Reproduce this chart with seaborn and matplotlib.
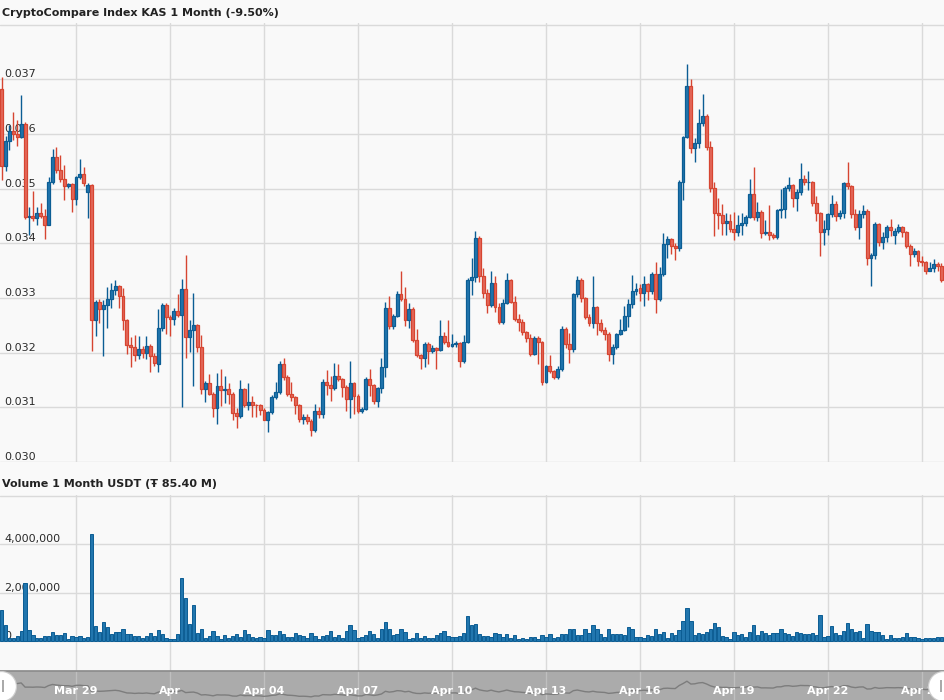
import numpy as np
import pandas as pd
import matplotlib
matplotlib.use("Agg")
import matplotlib.pyplot as plt
import matplotlib.dates as mdates
import seaborn as sns

# ── Look & feel ──────────────────────────────────────────
sns.set_theme(style="white")
plt.rcParams["font.family"] = ["DejaVu Sans"]

BG = "#f9f9f9"
GRID = "#dadada"
UP_FILL, UP_EDGE = "#2176ae", "#0b5d94"
DN_FILL, DN_EDGE = "#e4685a", "#d64531"

# ============================================================
# DATA  (3-hour candles, KAS in USDT)
# ============================================================
start_time = "2023-03-26 15:00"

opens = [
    0.03683, 0.03542, 0.03588, 0.03606, 0.03600, 0.03594, 0.03619, 0.03449, 0.03450, 0.03446,
    0.03455, 0.03450, 0.03433, 0.03512, 0.03557, 0.03534, 0.03517, 0.03505, 0.03508, 0.03481,
    0.03521, 0.03526, 0.03493, 0.03506, 0.03260, 0.03293, 0.03280, 0.03287, 0.03299, 0.03314,
    0.03322, 0.03303, 0.03259, 0.03214, 0.03210, 0.03195, 0.03207, 0.03199, 0.03213, 0.03194,
    0.03179, 0.03245, 0.03288, 0.03266, 0.03261, 0.03277, 0.03269, 0.03317, 0.03228, 0.03242,
    0.03250, 0.03210, 0.03133, 0.03144, 0.03125, 0.03098, 0.03139, 0.03131, 0.03133, 0.03125,
    0.03090, 0.03085, 0.03134, 0.03104, 0.03109, 0.03105, 0.03104, 0.03096, 0.03077, 0.03091,
    0.03118, 0.03128, 0.03179, 0.03155, 0.03125, 0.03118, 0.03104, 0.03079, 0.03083, 0.03075,
    0.03058, 0.03094, 0.03088, 0.03146, 0.03140, 0.03135, 0.03157, 0.03151, 0.03138, 0.03116,
    0.03144, 0.03121, 0.03094, 0.03097, 0.03152, 0.03140, 0.03112, 0.03135, 0.03173, 0.03281,
    0.03248, 0.03267, 0.03307, 0.03298, 0.03259, 0.03280, 0.03224, 0.03195, 0.03191, 0.03216,
    0.03203, 0.03208, 0.03205, 0.03230, 0.03219, 0.03213, 0.03216, 0.03217, 0.03184, 0.03219,
    0.03333, 0.03338, 0.03409, 0.03341, 0.03309, 0.03288, 0.03328, 0.03283, 0.03256, 0.03291,
    0.03332, 0.03293, 0.03262, 0.03256, 0.03237, 0.03226, 0.03197, 0.03226, 0.03219, 0.03147,
    0.03175, 0.03166, 0.03156, 0.03170, 0.03243, 0.03215, 0.03207, 0.03307, 0.03332, 0.03300,
    0.03266, 0.03254, 0.03283, 0.03254, 0.03242, 0.03234, 0.03197, 0.03211, 0.03234, 0.03242,
    0.03267, 0.03289, 0.03313, 0.03318, 0.03310, 0.03325, 0.03313, 0.03343, 0.03298, 0.03343,
    0.03398, 0.03407, 0.03396, 0.03391, 0.03513, 0.03594, 0.03688, 0.03574, 0.03583, 0.03620,
    0.03633, 0.03577, 0.03501, 0.03456, 0.03451, 0.03437, 0.03440, 0.03426, 0.03420, 0.03434,
    0.03437, 0.03448, 0.03491, 0.03448, 0.03457, 0.03418, 0.03420, 0.03415, 0.03411, 0.03461,
    0.03462, 0.03502, 0.03506, 0.03482, 0.03494, 0.03518, 0.03512, 0.03512, 0.03473, 0.03455,
    0.03421, 0.03426, 0.03453, 0.03472, 0.03450, 0.03455, 0.03511, 0.03504, 0.03453, 0.03429,
    0.03453, 0.03459, 0.03373, 0.03378, 0.03435, 0.03403, 0.03411, 0.03429, 0.03415, 0.03422,
    0.03429, 0.03420, 0.03396, 0.03380, 0.03386, 0.03368, 0.03365, 0.03350, 0.03355, 0.03362, 0.03358,
]

closes = [
    0.03542, 0.03588, 0.03606, 0.03600, 0.03594, 0.03619, 0.03449, 0.03450, 0.03446, 0.03455,
    0.03450, 0.03433, 0.03512, 0.03557, 0.03534, 0.03517, 0.03505, 0.03508, 0.03481, 0.03521,
    0.03526, 0.03510, 0.03506, 0.03260, 0.03293, 0.03280, 0.03287, 0.03299, 0.03314, 0.03322,
    0.03303, 0.03259, 0.03214, 0.03210, 0.03195, 0.03207, 0.03199, 0.03213, 0.03194, 0.03182,
    0.03245, 0.03288, 0.03266, 0.03261, 0.03277, 0.03269, 0.03317, 0.03228, 0.03242, 0.03250,
    0.03210, 0.03133, 0.03144, 0.03125, 0.03098, 0.03139, 0.03131, 0.03133, 0.03125, 0.03090,
    0.03085, 0.03134, 0.03104, 0.03109, 0.03105, 0.03104, 0.03096, 0.03077, 0.03091, 0.03118,
    0.03128, 0.03179, 0.03155, 0.03125, 0.03118, 0.03104, 0.03079, 0.03083, 0.03075, 0.03058,
    0.03094, 0.03088, 0.03146, 0.03140, 0.03135, 0.03157, 0.03151, 0.03138, 0.03116, 0.03144,
    0.03121, 0.03094, 0.03097, 0.03152, 0.03140, 0.03112, 0.03135, 0.03173, 0.03281, 0.03248,
    0.03267, 0.03307, 0.03298, 0.03259, 0.03280, 0.03224, 0.03195, 0.03191, 0.03216, 0.03203,
    0.03208, 0.03205, 0.03230, 0.03219, 0.03213, 0.03216, 0.03217, 0.03184, 0.03219, 0.03333,
    0.03338, 0.03409, 0.03341, 0.03309, 0.03288, 0.03328, 0.03283, 0.03256, 0.03291, 0.03332,
    0.03293, 0.03262, 0.03256, 0.03237, 0.03226, 0.03197, 0.03226, 0.03219, 0.03147, 0.03175,
    0.03166, 0.03156, 0.03170, 0.03243, 0.03215, 0.03207, 0.03307, 0.03332, 0.03300, 0.03266,
    0.03254, 0.03283, 0.03254, 0.03242, 0.03234, 0.03197, 0.03211, 0.03234, 0.03242, 0.03267,
    0.03289, 0.03313, 0.03317, 0.03310, 0.03325, 0.03313, 0.03343, 0.03298, 0.03343, 0.03398,
    0.03407, 0.03396, 0.03391, 0.03513, 0.03594, 0.03688, 0.03574, 0.03583, 0.03620, 0.03633,
    0.03577, 0.03501, 0.03456, 0.03451, 0.03437, 0.03440, 0.03426, 0.03420, 0.03434, 0.03437,
    0.03448, 0.03491, 0.03448, 0.03457, 0.03418, 0.03420, 0.03415, 0.03411, 0.03461, 0.03462,
    0.03502, 0.03506, 0.03482, 0.03494, 0.03518, 0.03512, 0.03512, 0.03473, 0.03455, 0.03421,
    0.03426, 0.03453, 0.03472, 0.03450, 0.03455, 0.03511, 0.03504, 0.03453, 0.03429, 0.03453,
    0.03459, 0.03373, 0.03378, 0.03435, 0.03403, 0.03411, 0.03429, 0.03424, 0.03422, 0.03429,
    0.03420, 0.03396, 0.03380, 0.03386, 0.03368, 0.03365, 0.03350, 0.03355, 0.03362, 0.03358, 0.03332,
]

highs = [
    0.03704, 0.03597, 0.03616, 0.03640, 0.03626, 0.03671, 0.03622, 0.03467, 0.03496, 0.03466,
    0.03473, 0.03462, 0.03522, 0.03573, 0.03577, 0.03562, 0.03543, 0.03511, 0.03511, 0.03524,
    0.03555, 0.03540, 0.03510, 0.03508, 0.03297, 0.03298, 0.03297, 0.03321, 0.03327, 0.03332,
    0.03324, 0.03318, 0.03262, 0.03228, 0.03232, 0.03230, 0.03212, 0.03230, 0.03216, 0.03200,
    0.03280, 0.03291, 0.03291, 0.03268, 0.03282, 0.03308, 0.03335, 0.03378, 0.03259, 0.03309,
    0.03253, 0.03232, 0.03148, 0.03161, 0.03128, 0.03162, 0.03171, 0.03157, 0.03144, 0.03128,
    0.03099, 0.03150, 0.03136, 0.03144, 0.03121, 0.03107, 0.03107, 0.03099, 0.03094, 0.03122,
    0.03146, 0.03185, 0.03190, 0.03160, 0.03146, 0.03121, 0.03106, 0.03088, 0.03088, 0.03078,
    0.03106, 0.03100, 0.03152, 0.03168, 0.03157, 0.03182, 0.03179, 0.03153, 0.03141, 0.03185,
    0.03146, 0.03124, 0.03100, 0.03155, 0.03171, 0.03142, 0.03138, 0.03190, 0.03292, 0.03304,
    0.03270, 0.03312, 0.03349, 0.03321, 0.03291, 0.03283, 0.03243, 0.03197, 0.03220, 0.03220,
    0.03214, 0.03210, 0.03259, 0.03237, 0.03259, 0.03234, 0.03222, 0.03219, 0.03233, 0.03336,
    0.03374, 0.03423, 0.03414, 0.03354, 0.03316, 0.03350, 0.03340, 0.03290, 0.03299, 0.03346,
    0.03335, 0.03303, 0.03270, 0.03262, 0.03240, 0.03234, 0.03231, 0.03230, 0.03222, 0.03178,
    0.03196, 0.03168, 0.03175, 0.03248, 0.03247, 0.03236, 0.03309, 0.03340, 0.03336, 0.03302,
    0.03270, 0.03340, 0.03286, 0.03262, 0.03247, 0.03237, 0.03216, 0.03236, 0.03262, 0.03285,
    0.03298, 0.03342, 0.03327, 0.03325, 0.03340, 0.03327, 0.03348, 0.03365, 0.03356, 0.03419,
    0.03413, 0.03409, 0.03400, 0.03516, 0.03597, 0.03728, 0.03700, 0.03593, 0.03646, 0.03673,
    0.03636, 0.03587, 0.03512, 0.03482, 0.03472, 0.03455, 0.03454, 0.03457, 0.03452, 0.03455,
    0.03451, 0.03518, 0.03539, 0.03475, 0.03461, 0.03443, 0.03470, 0.03418, 0.03463, 0.03500,
    0.03505, 0.03521, 0.03508, 0.03500, 0.03547, 0.03525, 0.03532, 0.03514, 0.03486, 0.03457,
    0.03442, 0.03456, 0.03488, 0.03477, 0.03461, 0.03513, 0.03548, 0.03507, 0.03463, 0.03461,
    0.03470, 0.03462, 0.03382, 0.03439, 0.03437, 0.03420, 0.03434, 0.03445, 0.03428, 0.03436,
    0.03432, 0.03422, 0.03398, 0.03392, 0.03388, 0.03376, 0.03367, 0.03365, 0.03372, 0.03366, 0.03364,
]

lows = [
    0.03516, 0.03533, 0.03570, 0.03589, 0.03578, 0.03592, 0.03444, 0.03416, 0.03440, 0.03434,
    0.03446, 0.03408, 0.03433, 0.03508, 0.03528, 0.03512, 0.03479, 0.03502, 0.03458, 0.03471,
    0.03518, 0.03505, 0.03447, 0.03203, 0.03230, 0.03254, 0.03193, 0.03245, 0.03282, 0.03306,
    0.03282, 0.03241, 0.03197, 0.03173, 0.03185, 0.03188, 0.03190, 0.03188, 0.03165, 0.03175,
    0.03165, 0.03240, 0.03234, 0.03231, 0.03250, 0.03265, 0.03101, 0.03190, 0.03202, 0.03139,
    0.03202, 0.03124, 0.03110, 0.03122, 0.03082, 0.03070, 0.03103, 0.03108, 0.03106, 0.03076,
    0.03063, 0.03080, 0.03100, 0.03096, 0.03082, 0.03082, 0.03086, 0.03076, 0.03055, 0.03088,
    0.03115, 0.03125, 0.03150, 0.03120, 0.03112, 0.03088, 0.03074, 0.03070, 0.03070, 0.03048,
    0.03055, 0.03080, 0.03081, 0.03123, 0.03112, 0.03131, 0.03148, 0.03119, 0.03093, 0.03081,
    0.03087, 0.03089, 0.03089, 0.03095, 0.03120, 0.03107, 0.03100, 0.03126, 0.03156, 0.03244,
    0.03244, 0.03265, 0.03295, 0.03248, 0.03246, 0.03220, 0.03192, 0.03170, 0.03173, 0.03179,
    0.03200, 0.03171, 0.03203, 0.03215, 0.03211, 0.03210, 0.03211, 0.03173, 0.03182, 0.03218,
    0.03305, 0.03330, 0.03330, 0.03300, 0.03272, 0.03284, 0.03275, 0.03252, 0.03253, 0.03289,
    0.03291, 0.03258, 0.03240, 0.03232, 0.03220, 0.03193, 0.03195, 0.03180, 0.03141, 0.03144,
    0.03162, 0.03151, 0.03152, 0.03167, 0.03209, 0.03181, 0.03202, 0.03301, 0.03293, 0.03262,
    0.03249, 0.03245, 0.03232, 0.03238, 0.03224, 0.03185, 0.03180, 0.03206, 0.03232, 0.03240,
    0.03247, 0.03282, 0.03305, 0.03295, 0.03285, 0.03296, 0.03308, 0.03272, 0.03295, 0.03340,
    0.03373, 0.03380, 0.03369, 0.03386, 0.03479, 0.03592, 0.03566, 0.03548, 0.03575, 0.03615,
    0.03570, 0.03493, 0.03414, 0.03426, 0.03416, 0.03415, 0.03420, 0.03406, 0.03414, 0.03416,
    0.03432, 0.03446, 0.03442, 0.03440, 0.03409, 0.03415, 0.03406, 0.03408, 0.03407, 0.03446,
    0.03446, 0.03496, 0.03466, 0.03459, 0.03489, 0.03506, 0.03497, 0.03468, 0.03441, 0.03376,
    0.03397, 0.03416, 0.03449, 0.03441, 0.03444, 0.03446, 0.03500, 0.03447, 0.03424, 0.03407,
    0.03446, 0.03360, 0.03322, 0.03372, 0.03396, 0.03389, 0.03402, 0.03413, 0.03398, 0.03418,
    0.03411, 0.03392, 0.03359, 0.03375, 0.03359, 0.03359, 0.03343, 0.03349, 0.03348, 0.03350, 0.03330,
]

# volume in millions of USDT
volumes_m = [
    1.29, 0.67, 0.15, 0.12, 0.22, 0.42, 2.42, 0.47, 0.26, 0.12,
    0.12, 0.22, 0.22, 0.37, 0.26, 0.26, 0.33, 0.10, 0.23, 0.19,
    0.23, 0.15, 0.16, 4.44, 0.63, 0.37, 0.78, 0.58, 0.29, 0.37,
    0.37, 0.53, 0.29, 0.29, 0.22, 0.22, 0.12, 0.22, 0.33, 0.22,
    0.45, 0.29, 0.15, 0.10, 0.10, 0.29, 2.63, 1.77, 0.71, 1.49,
    0.33, 0.49, 0.12, 0.23, 0.42, 0.23, 0.10, 0.26, 0.12, 0.23,
    0.29, 0.16, 0.45, 0.30, 0.16, 0.12, 0.16, 0.12, 0.45, 0.26,
    0.26, 0.41, 0.30, 0.16, 0.16, 0.33, 0.26, 0.22, 0.12, 0.33,
    0.22, 0.10, 0.22, 0.26, 0.42, 0.16, 0.26, 0.12, 0.42, 0.67,
    0.47, 0.12, 0.16, 0.26, 0.42, 0.30, 0.12, 0.49, 0.78, 0.49,
    0.26, 0.30, 0.49, 0.37, 0.10, 0.15, 0.33, 0.12, 0.22, 0.12,
    0.12, 0.26, 0.33, 0.41, 0.22, 0.16, 0.16, 0.23, 0.33, 1.04,
    0.67, 0.71, 0.30, 0.22, 0.22, 0.16, 0.33, 0.29, 0.16, 0.29,
    0.12, 0.26, 0.08, 0.12, 0.08, 0.16, 0.16, 0.08, 0.26, 0.19,
    0.29, 0.12, 0.16, 0.29, 0.29, 0.49, 0.49, 0.26, 0.26, 0.49,
    0.33, 0.66, 0.49, 0.29, 0.16, 0.49, 0.29, 0.29, 0.29, 0.26,
    0.58, 0.53, 0.16, 0.16, 0.12, 0.26, 0.22, 0.49, 0.30, 0.37,
    0.12, 0.33, 0.26, 0.45, 0.84, 1.36, 0.86, 0.26, 0.33, 0.30,
    0.37, 0.49, 0.74, 0.59, 0.22, 0.16, 0.08, 0.37, 0.26, 0.30,
    0.16, 0.37, 0.66, 0.26, 0.42, 0.33, 0.26, 0.33, 0.33, 0.53,
    0.33, 0.30, 0.22, 0.37, 0.33, 0.30, 0.30, 0.33, 0.26, 1.07,
    0.16, 0.22, 0.63, 0.33, 0.26, 0.42, 0.74, 0.49, 0.37, 0.42,
    0.12, 0.71, 0.42, 0.38, 0.38, 0.26, 0.08, 0.26, 0.12, 0.12,
    0.16, 0.33, 0.16, 0.16, 0.12, 0.08, 0.12, 0.12, 0.12, 0.16, 0.16,
]

price_ticks = [0.030, 0.031, 0.032, 0.033, 0.034, 0.035, 0.036, 0.037, 0.038]
price_labels = ["0.030", "0.031", "0.032", "0.033", "0.034", "0.035", "0.036", "0.037", ""]
volume_ticks = [0, 2_000_000, 4_000_000, 6_000_000]
volume_labels = ["0", "2,000,000", "4,000,000", ""]
date_ticks = ["2023-03-29", "2023-04-01", "2023-04-04", "2023-04-07", "2023-04-10",
              "2023-04-13", "2023-04-16", "2023-04-19", "2023-04-22", "2023-04-25"]
date_labels = ["Mar 29", "Apr", "Apr 04", "Apr 07", "Apr 10",
               "Apr 13", "Apr 16", "Apr 19", "Apr 22", "Apr 25"]

title_price = "CryptoCompare Index KAS 1 Month (-9.50%)"
title_volume = "Volume 1 Month USDT (\u0166 85.40 M)"

# ============================================================
# BUILD THE TABLE
# ============================================================
df = pd.DataFrame({
    "time": pd.date_range(start_time, periods=len(closes), freq="3h"),
    "open": opens, "high": highs, "low": lows, "close": closes,
    "volume": np.array(volumes_m) * 1e6,
})
df["x"] = mdates.date2num(df["time"])
df["up"] = df["close"] >= df["open"]

x_left = mdates.date2num(pd.Timestamp("2023-03-26 13:47"))
x_right = mdates.date2num(pd.Timestamp("2023-04-25 16:55"))
grid_x = mdates.date2num(pd.to_datetime(date_ticks))

# ============================================================
# FIGURE
# ============================================================
W, H = 944, 700
fig = plt.figure(figsize=(W / 100, H / 100), dpi=100, facecolor=BG)


def px_axes(top, bottom):
    return fig.add_axes([0, 1 - bottom / H, 1, (bottom - top) / H])


ax_p = px_axes(23, 462)
ax_v = px_axes(495, 671)
ax_n = px_axes(671, 700)

for ax in (ax_p, ax_v, ax_n):
    ax.set_facecolor(BG)
    ax.set_xlim(x_left, x_right)
    for s in ax.spines.values():
        s.set_visible(False)
    ax.set_xticks([])

# ── price panel: candles ───────────────────────────────────
for is_up, fill, edge in [(True, UP_FILL, UP_EDGE), (False, DN_FILL, DN_EDGE)]:
    d = df[df["up"] == is_up]
    ax_p.vlines(d["x"], d["low"], d["high"], color=edge, lw=1.0, zorder=2)
    ax_p.bar(d["x"], (d["close"] - d["open"]).abs(), bottom=d[["open", "close"]].min(axis=1),
             width=0.092, color=fill, edgecolor=edge, linewidth=0.9, zorder=3)

ax_p.set_ylim(0.030, 0.03803)
ax_p.set_yticks(price_ticks)
ax_p.set_yticklabels(price_labels)

# ── volume panel ───────────────────────────────────────────
ax_v.bar(df["x"], df["volume"], width=0.105, color=UP_FILL, edgecolor=UP_EDGE,
         linewidth=0.7, zorder=3)
ax_v.set_ylim(-1.22e6, 6.03e6)
ax_v.set_yticks(volume_ticks)
ax_v.set_yticklabels(volume_labels)

for ax in (ax_p, ax_v):
    ax.grid(axis="y", color=GRID, lw=1, zorder=0)
    for gx in grid_x:
        ax.axvline(gx, color=GRID, lw=1, zorder=0)
    ax.tick_params(axis="y", length=0, pad=-3, labelsize=8, labelcolor="#2b2b2b")
    for lbl in ax.get_yticklabels():
        lbl.set_ha("left")
        lbl.set_va("bottom")

# ── navigator ──────────────────────────────────────────────
ax_n.set_facecolor("#ababab")
ax_n.spines["top"].set_visible(True)
ax_n.spines["top"].set_color("#8c8c8c")
for gx in grid_x:
    ax_n.axvline(gx, color="#bfbfbf", lw=1, zorder=1)
sns.lineplot(x=df["x"], y=df["close"], ax=ax_n, color="#7d7d7d", lw=1, zorder=2)
ax_n.set_ylim(0.0293, 0.0410)
ax_n.set_yticks([])
ax_n.set_xlabel("")
ax_n.set_ylabel("")
for gx, lab in zip(grid_x, date_labels):
    ax_n.text(gx, 0.32, lab, transform=ax_n.get_xaxis_transform(), ha="center", va="center",
              color="white", fontsize=8, fontweight="bold", zorder=3)
for hx in (0.001, 0.999):
    ax_n.plot([hx], [0.5], marker="o", ms=21.5, mfc="white", mec="#cfcfcf", mew=0.8,
              transform=ax_n.transAxes, clip_on=False, zorder=5)
    ax_n.plot([hx + (0.002 if hx < 0.5 else -0.002)], [0.5], marker="|", ms=8, mec="#9a9a9a",
              mew=1.2, transform=ax_n.transAxes, clip_on=False, zorder=6)

# ── panel titles ───────────────────────────────────────────
fig.text(2 / W, 1 - 13 / H, title_price, fontsize=8.0, fontweight="bold", color="#222222",
         ha="left", va="center")
fig.text(2 / W, 1 - 484 / H, title_volume, fontsize=8.0, fontweight="bold", color="#222222",
         ha="left", va="center")

fig.savefig("out.png", dpi=100, facecolor=BG)
